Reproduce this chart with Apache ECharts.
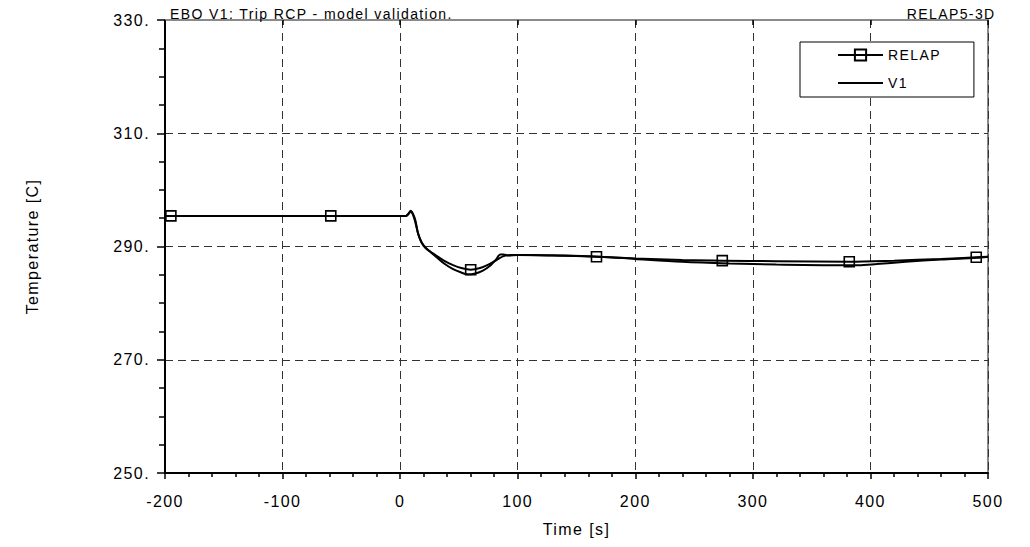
<!DOCTYPE html>
<html>
<head>
<meta charset="utf-8">
<script src="https://cdn.jsdelivr.net/npm/echarts@6/dist/echarts.min.js"></script>
<style>
html, body { margin: 0; padding: 0; background: #fff; }
#chart { width: 1030px; height: 547px; }
#chart text { letter-spacing: 1.4px; }
</style>
</head>
<body>
<div id="chart"></div>
<script>
// ---- data ----
const chartTitle = 'EBO V1: Trip RCP - model validation.';
const codeLabel = 'RELAP5-3D';
const xTicks = [-200, -100, 0, 100, 200, 300, 400, 500];
const yTicks = [250, 270, 290, 310, 330];

const relapT = [-200, -195, -59, 0, 5, 7, 9, 11, 13, 16, 20, 25, 30, 38, 45, 52, 60, 68, 75, 82, 88, 95, 110, 140, 167, 200, 240, 274, 320, 382, 420, 460, 490, 500];
const relapV = [295.4, 295.4, 295.4, 295.4, 295.4, 295.7, 296.2, 295.6, 294.2, 291.8, 290.1, 289.2, 288.5, 287.4, 286.7, 286.2, 285.9, 286.2, 286.8, 287.6, 288.3, 288.5, 288.5, 288.4, 288.2, 287.9, 287.6, 287.5, 287.4, 287.3, 287.5, 287.8, 288.1, 288.2];
const relapMarkT = [-195, -59, 60, 167, 274, 382, 490];

const v1T = [-200, 0, 5, 7, 9, 11, 13, 15, 18, 22, 26, 30, 38, 45, 52, 57, 63, 70, 77, 82, 85, 88, 92, 100, 130, 170, 200, 240, 280, 320, 360, 390, 405, 430, 460, 490, 500];
const v1V = [295.4, 295.4, 295.4, 295.8, 296.3, 295.7, 294.6, 292.5, 290.8, 289.7, 289.0, 288.3, 286.9, 286.0, 285.4, 285.1, 285.2, 285.7, 286.7, 287.8, 288.6, 288.6, 288.4, 288.5, 288.4, 288.2, 287.8, 287.3, 287.0, 286.8, 286.7, 286.7, 286.9, 287.3, 287.7, 288.0, 288.2];

// ---- chart ----
const FONT = '"Liberation Sans", Arial, sans-serif';
const chart = echarts.init(document.getElementById('chart'), null, { renderer: 'svg' });

const relapData = relapT.map((t, i) => ({
  value: [t, relapV[i]],
  symbol: relapMarkT.includes(t) ? 'rect' : 'none'
}));
const v1Data = v1T.map((t, i) => [t, v1V[i]]);

const option = {
  backgroundColor: '#fff',
  animation: false,
  textStyle: { fontFamily: FONT, color: '#000' },
  title: [
    { text: chartTitle, left: 165, top: 2, textStyle: { fontFamily: FONT, fontSize: 14, fontWeight: 'normal', color: '#000' } },
    { text: codeLabel, right: 42, top: 2, textStyle: { fontFamily: FONT, fontSize: 14, fontWeight: 'normal', color: '#000' } }
  ],
  legend: {
    orient: 'vertical',
    left: 800,
    top: 42,
    padding: [6, 40, 7, 37],
    itemWidth: 45,
    itemHeight: 14,
    itemGap: 14,
    backgroundColor: '#fff',
    borderColor: '#000',
    borderWidth: 1,
    borderRadius: 0,
    textStyle: { fontFamily: FONT, fontSize: 14, color: '#000' },
    data: [
      { name: 'RELAP' },
      { name: 'V1', itemStyle: { opacity: 0 } }
    ]
  },
  grid: {
    left: 165, right: 42, top: 20, bottom: 74,
    show: true, borderColor: '#8a8a8a', borderWidth: 2, backgroundColor: 'transparent'
  },
  xAxis: [
    {
      type: 'value', min: xTicks[0], max: xTicks[xTicks.length - 1], interval: 100,
      position: 'bottom',
      name: 'Time [s]', nameLocation: 'middle', nameGap: 48,
      nameTextStyle: { fontFamily: FONT, fontSize: 16, color: '#000' },
      axisLine: { show: true, onZero: false, lineStyle: { color: '#000', width: 2 } },
      axisTick: { show: true, inside: false, length: 6, lineStyle: { color: '#000', width: 1.5 } },
      minorTick: { show: true, splitNumber: 5, length: 4, lineStyle: { color: '#000', width: 1.5 } },
      axisLabel: { fontFamily: FONT, fontSize: 16, color: '#000', margin: 20 },
      splitLine: { show: true, lineStyle: { color: '#333', width: 1, type: [8, 5] } }
    },
    {
      type: 'value', min: xTicks[0], max: xTicks[xTicks.length - 1], interval: 100,
      position: 'top',
      axisLine: { show: true, onZero: false, lineStyle: { color: '#8a8a8a', width: 2 } },
      axisTick: { show: true, inside: true, length: 5, lineStyle: { color: '#000', width: 1.5 } },
      axisLabel: { show: false },
      splitLine: { show: false }
    }
  ],
  yAxis: {
    type: 'value', min: yTicks[0], max: yTicks[yTicks.length - 1], interval: 20,
    name: 'Temperature [C]', nameLocation: 'middle', nameGap: 125, nameRotate: 90,
    nameTextStyle: { fontFamily: FONT, fontSize: 16, color: '#000' },
    axisLine: { show: true, onZero: false, lineStyle: { color: '#000', width: 2 } },
    axisTick: { show: true, inside: false, length: 8, lineStyle: { color: '#000', width: 1.5 } },
    minorTick: { show: true, splitNumber: 4, length: 6, lineStyle: { color: '#000', width: 1.5 } },
    axisLabel: { fontFamily: FONT, fontSize: 16, color: '#000', margin: 15, formatter: v => v + '.' },
    splitLine: { show: true, lineStyle: { color: '#333', width: 1, type: [8, 5] } }
  },
  series: [
    {
      name: 'RELAP', type: 'line', data: relapData,
      symbol: 'rect', symbolSize: 10, showSymbol: true, showAllSymbol: true,
      smooth: 0.3,
      lineStyle: { color: '#000', width: 2 },
      itemStyle: { color: 'rgba(255,255,255,0)', borderColor: '#000', borderWidth: 1.6 },
      z: 3
    },
    {
      name: 'V1', type: 'line', data: v1Data,
      symbol: 'none', smooth: 0.3,
      lineStyle: { color: '#000', width: 2 },
      itemStyle: { color: '#000' },
      z: 2
    }
  ]
};
chart.setOption(option);
</script>
</body>
</html>
